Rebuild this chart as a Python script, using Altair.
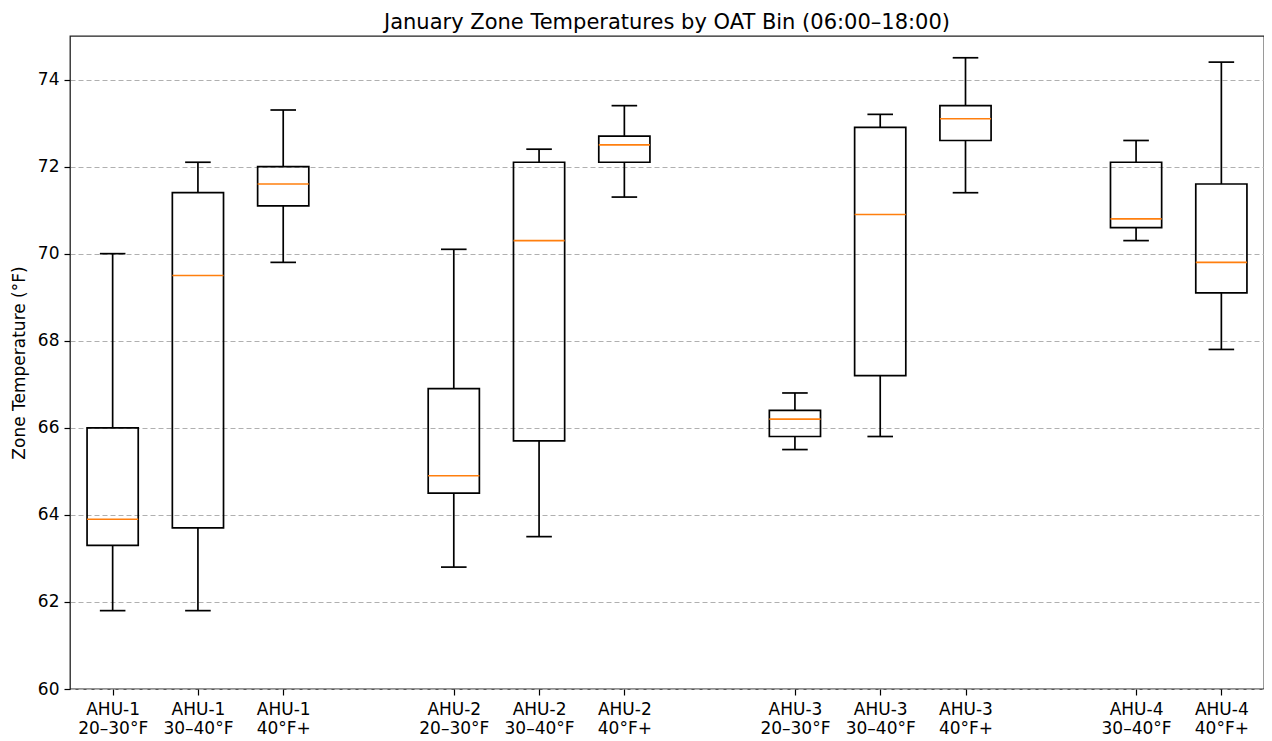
import altair as alt
import pandas as pd

units = ["AHU-1", "AHU-1", "AHU-1", "AHU-2", "AHU-2", "AHU-2",
         "AHU-3", "AHU-3", "AHU-3", "AHU-4", "AHU-4"]
bins = ["20–30°F", "30–40°F", "40°F+", "20–30°F", "30–40°F", "40°F+",
        "20–30°F", "30–40°F", "40°F+", "30–40°F", "40°F+"]
positions = [1, 2, 3, 5, 6, 7, 9, 10, 11, 13, 14]
whisker_low = [61.8, 61.8, 69.8, 62.8, 63.5, 71.3, 65.5, 65.8, 71.4, 70.3, 67.8]
q1 = [63.3, 63.7, 71.1, 64.5, 65.7, 72.1, 65.8, 67.2, 72.6, 70.6, 69.1]
median = [63.9, 69.5, 71.6, 64.9, 70.3, 72.5, 66.2, 70.9, 73.1, 70.8, 69.8]
q3 = [66.0, 71.4, 72.0, 66.9, 72.1, 72.7, 66.4, 72.9, 73.4, 72.1, 71.6]
whisker_high = [70.0, 72.1, 73.3, 70.1, 72.4, 73.4, 66.8, 73.2, 74.5, 72.6, 74.4]
y_ticks = [60, 62, 64, 66, 68, 70, 72, 74]

df = pd.DataFrame({
    "pos": positions, "unit": units, "bin": bins,
    "lo": whisker_low, "q1": q1, "med": median, "q3": q3, "hi": whisker_high,
})

label_arr = [""] * 15
for p, u, b in zip(positions, units, bins):
    label_arr[p] = f"{u}|{b}"
label_expr = "split([" + ",".join(f"'{s}'" for s in label_arr) + "][datum.value], '|')"

FONT = "DejaVu Sans"
xscale = alt.Scale(domain=[0.5, 14.5], nice=False, zero=False)
yscale = alt.Scale(domain=[60, 75], nice=False, zero=False)

xaxis = alt.Axis(values=positions, labelExpr=label_expr, title=None, grid=False,
                 labelFont=FONT, labelFontSize=17, labelColor="#000", labelLineHeight=19,
                 tickColor="#000", tickSize=6, tickWidth=1.2, domain=False, labelPadding=6,
                 labelBaseline="top")
yaxis = alt.Axis(values=y_ticks, title="Zone Temperature (°F)", grid=True,
                 gridDash=[5, 3], gridColor="#b0b0b0", gridWidth=1,
                 labelFont=FONT, labelFontSize=17, labelColor="#000",
                 titleFont=FONT, titleFontSize=17, titleFontWeight="normal", titleColor="#000",
                 titlePadding=9, tickColor="#000", tickSize=6, tickWidth=1.2, domain=False,
                 labelPadding=5)

base = alt.Chart(df).transform_calculate(
    bl="datum.pos - 0.3", br="datum.pos + 0.3",
    cl="datum.pos - 0.15", cr="datum.pos + 0.15",
)

SW = 1.7
lower_whisker = base.mark_rule(color="black", strokeWidth=SW).encode(
    x=alt.X("pos:Q", scale=xscale, axis=xaxis),
    y=alt.Y("lo:Q", scale=yscale, axis=yaxis),
    y2="q1:Q",
)
upper_whisker = base.mark_rule(color="black", strokeWidth=SW).encode(
    x=alt.X("pos:Q", scale=xscale), y=alt.Y("q3:Q", scale=yscale), y2="hi:Q",
)
low_cap = base.mark_rule(color="black", strokeWidth=SW).encode(
    x=alt.X("cl:Q", scale=xscale), x2="cr:Q", y=alt.Y("lo:Q", scale=yscale),
)
high_cap = base.mark_rule(color="black", strokeWidth=SW).encode(
    x=alt.X("cl:Q", scale=xscale), x2="cr:Q", y=alt.Y("hi:Q", scale=yscale),
)
box = base.mark_rect(fillOpacity=0, stroke="black", strokeWidth=SW).encode(
    x=alt.X("bl:Q", scale=xscale), x2="br:Q",
    y=alt.Y("q1:Q", scale=yscale), y2="q3:Q",
)
med = base.mark_rule(color="#ff7f0e", strokeWidth=1.6).encode(
    x=alt.X("bl:Q", scale=xscale), x2="br:Q", y=alt.Y("med:Q", scale=yscale),
)

chart = alt.layer(lower_whisker, upper_whisker, low_cap, high_cap, box, med).properties(
    width=1194, height=653,
    background="white",
    title=alt.TitleParams("January Zone Temperatures by OAT Bin (06:00–18:00)",
                          font=FONT, fontSize=21, fontWeight="normal", color="#000",
                          anchor="middle", offset=3),
    autosize=alt.AutoSizeParams(type="none"),
    padding={"left": 62, "top": 28, "right": 0, "bottom": 50},
).configure_view(stroke="#222", strokeWidth=1.3)

chart.save("out.html", embed_options={"renderer": "svg", "actions": False})
